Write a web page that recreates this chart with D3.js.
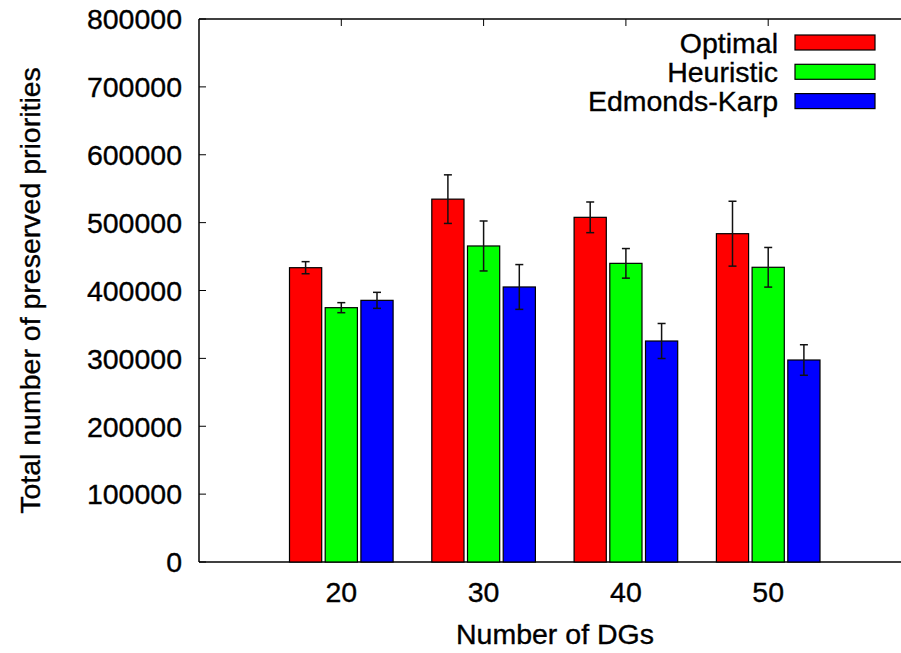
<!DOCTYPE html>
<html>
<head>
<meta charset="utf-8">
<script src="https://cdn.jsdelivr.net/npm/d3@7/dist/d3.min.js"></script>
<style>
  body { margin: 0; background: #fff; }
  text { font-family: "Liberation Sans", Arial, sans-serif; fill: #000; stroke: #000; stroke-width: 0.35px; }
</style>
</head>
<body>
<div id="chart"></div>
<script>
// data
var dgs = [20, 30, 40, 50];
var seriesNames = ["Optimal", "Heuristic", "Edmonds-Karp"];
var seriesColors = ["#ff0000", "#00ff00", "#0000ff"];
var optimal = [433600, 534600, 507800, 483700];
var optimalErr = [8900, 35800, 22600, 47800];
var heuristic = [374700, 465600, 440000, 434200];
var heuristicErr = [7400, 36800, 21800, 29200];
var edmonds = [385500, 405200, 325600, 297600];
var edmondsErr = [11800, 33000, 25800, 22500];
var yTicks = [0, 100000, 200000, 300000, 400000, 500000, 600000, 700000, 800000];

var values = [optimal, heuristic, edmonds];
var errors = [optimalErr, heuristicErr, edmondsErr];

var W = 901, H = 653;
var margin = { top: 19, left: 199, bottom: 91 };
var canvas = d3.select("#chart").append("svg").attr("width", W).attr("height", H);

var height = H - margin.top - margin.bottom;

var xScale = d3.scaleLinear().domain([10, 60]).range([margin.left, margin.left + 5 * 142.3]);
var yScale = d3.scaleLinear().domain([0, 800000]).range([margin.top + height, margin.top]);
var xSub = d3.scaleBand().domain(seriesNames).range([-51.8, 51.8]).paddingInner(0.098);

var datos = [];
dgs.forEach(function (g, i) {
    seriesNames.forEach(function (s, j) {
        datos.push({ dg: g, serie: s, color: seriesColors[j], valor: values[j][i], err: errors[j][i] });
    });
});

// frame: left, top and bottom (right side is cut off)
var x0 = margin.left, x1 = W, yb = yScale(0), yt = yScale(800000);
canvas.append("line").attr("x1", x0).attr("x2", x1).attr("y1", yt).attr("y2", yt).attr("stroke", "#000").attr("stroke-width", 1.5);
canvas.append("line").attr("x1", x0).attr("x2", x1).attr("y1", yb).attr("y2", yb).attr("stroke", "#000").attr("stroke-width", 1.5);
canvas.append("line").attr("x1", x0).attr("x2", x0).attr("y1", yt).attr("y2", yb).attr("stroke", "#000").attr("stroke-width", 1.5);

// y ticks and labels
var yAxis = canvas.append("g");
yAxis.selectAll("line").data(yTicks).enter().append("line")
    .attr("x1", x0).attr("x2", x0 + 7)
    .attr("y1", function (d) { return yScale(d); })
    .attr("y2", function (d) { return yScale(d); })
    .attr("stroke", "#000").attr("stroke-width", 1);
yAxis.selectAll("text").data(yTicks).enter().append("text")
    .attr("x", x0 - 17)
    .attr("y", function (d) { return yScale(d); })
    .attr("dy", "0.36em")
    .attr("text-anchor", "end")
    .attr("font-size", 28.5)
    .text(function (d) { return d; });

// x ticks (top and bottom) and labels
var xAxis = canvas.append("g");
xAxis.selectAll("line.top").data(dgs).enter().append("line").attr("class", "top")
    .attr("x1", function (d) { return xScale(d); }).attr("x2", function (d) { return xScale(d); })
    .attr("y1", yt).attr("y2", yt + 7).attr("stroke", "#000");
xAxis.selectAll("line.bot").data(dgs).enter().append("line").attr("class", "bot")
    .attr("x1", function (d) { return xScale(d); }).attr("x2", function (d) { return xScale(d); })
    .attr("y1", yb).attr("y2", yb - 7).attr("stroke", "#000");
xAxis.selectAll("text").data(dgs).enter().append("text")
    .attr("x", function (d) { return xScale(d); })
    .attr("y", 602)
    .attr("text-anchor", "middle")
    .attr("font-size", 28.5)
    .text(function (d) { return d; });

// bars
canvas.selectAll(".bar").data(datos).enter().append("rect")
    .attr("class", "bar")
    .attr("x", function (d) { return xScale(d.dg) + xSub(d.serie); })
    .attr("y", function (d) { return yScale(d.valor); })
    .attr("width", xSub.bandwidth())
    .attr("height", function (d) { return yb - yScale(d.valor); })
    .attr("fill", function (d) { return d.color; })
    .attr("stroke", "#000").attr("stroke-width", 1.2);

// error bars
var eb = canvas.selectAll(".err").data(datos).enter().append("g").attr("class", "err")
    .attr("stroke", "#111").attr("stroke-width", 1.5);
function cx(d) { return xScale(d.dg) + xSub(d.serie) + xSub.bandwidth() / 2; }
eb.append("line")
    .attr("x1", cx).attr("x2", cx)
    .attr("y1", function (d) { return yScale(d.valor + d.err); })
    .attr("y2", function (d) { return yScale(d.valor - d.err); });
[1, -1].forEach(function (sg) {
    eb.append("line")
        .attr("x1", function (d) { return cx(d) - 4; })
        .attr("x2", function (d) { return cx(d) + 4; })
        .attr("y1", function (d) { return yScale(d.valor + sg * d.err); })
        .attr("y2", function (d) { return yScale(d.valor + sg * d.err); });
});

// legend
var legend = canvas.selectAll(".legend").data(seriesNames).enter().append("g")
    .attr("class", "legend")
    .attr("transform", function (d, i) { return "translate(0," + (42.5 + i * 29.3) + ")"; });
legend.append("text")
    .attr("x", 778).attr("dy", "0.36em")
    .attr("text-anchor", "end")
    .attr("font-size", 28.5)
    .text(function (d) { return d; });
legend.append("rect")
    .attr("x", 795).attr("y", -7.5).attr("width", 80).attr("height", 15)
    .attr("fill", function (d, i) { return seriesColors[i]; })
    .attr("stroke", "#000").attr("stroke-width", 1.2);

// axis titles
canvas.append("text")
    .attr("x", 555).attr("y", 644)
    .attr("text-anchor", "middle")
    .attr("font-size", 28.5)
    .text("Number of DGs");
canvas.append("text")
    .attr("transform", "translate(40," + (yScale(400000)) + ") rotate(-90)")
    .attr("text-anchor", "middle")
    .attr("font-size", 28.5)
    .text("Total number of preserved priorities");
</script>
</body>
</html>
